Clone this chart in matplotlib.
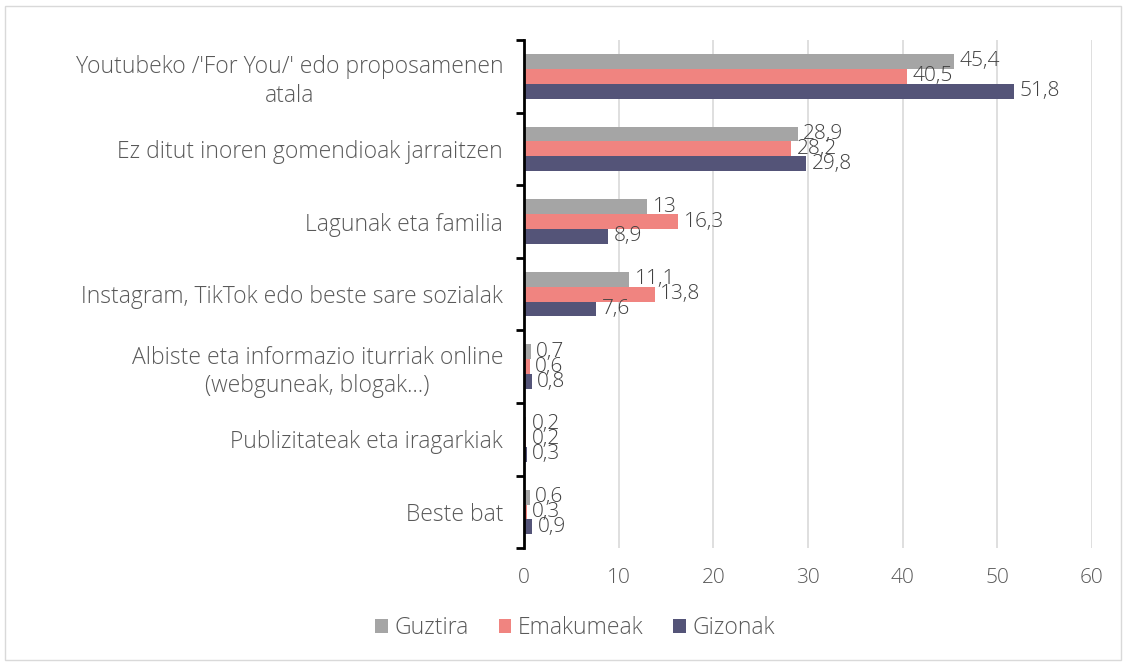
import matplotlib.pyplot as plt
from matplotlib.patches import Rectangle
import numpy as np

plt.rcParams['font.family'] = ['Open Sans', 'DejaVu Sans']
plt.rcParams['font.weight'] = 'light'

categories = [
    "Youtubeko /'For You/' edo proposamenen\natala",
    "Ez ditut inoren gomendioak jarraitzen",
    "Lagunak eta familia",
    "Instagram, TikTok edo beste sare sozialak",
    "Albiste eta informazio iturriak online\n(webguneak, blogak...)",
    "Publizitateak eta iragarkiak",
    "Beste bat",
]
guztira = [45.4, 28.9, 13, 11.1, 0.7, 0.2, 0.6]
emakumeak = [40.5, 28.2, 16.3, 13.8, 0.6, 0.2, 0.3]
gizonak = [51.8, 29.8, 8.9, 7.6, 0.8, 0.3, 0.9]

series = [("Guztira", guztira, "#A5A5A5"),
          ("Emakumeak", emakumeak, "#F08480"),
          ("Gizonak", gizonak, "#545478")]

text_col = "#595959"

fig = plt.figure(figsize=(11.28, 6.67), dpi=100)
ax = fig.add_axes([0.4645, 0.178, 0.5035, 0.762])

y = np.arange(len(categories))
h = 0.205
for i, (name, vals, col) in enumerate(series):
    pos = y + (i - 1) * h
    ax.barh(pos, vals, height=h, color=col, label=name)
    for p, v in zip(pos, vals):
        txt = f"{v:g}".replace(".", ",")
        ax.annotate(txt, (v, p), xytext=(4, 0), textcoords="offset points",
                    va="center", ha="left", fontsize=15, color="#404040")

ax.set_xlim(0, 60)
ax.set_ylim(len(categories) - 0.5, -0.5)
ax.set_xticks(range(0, 61, 10))
ax.tick_params(axis="x", length=0, labelsize=15, labelcolor=text_col, pad=14)
ax.grid(axis="x", color="#D9D9D9", linewidth=1.2)
ax.set_axisbelow(True)

ax.set_yticks(y)
ax.set_yticklabels(categories, fontsize=16.5, color=text_col, linespacing=1.25)
for lbl in ax.get_yticklabels():
    lbl.set_multialignment("center")
ax.tick_params(axis="y", which="major", length=0, pad=15)
ax.set_yticks(np.arange(-0.5, len(categories)), minor=True)
ax.tick_params(axis="y", which="minor", length=6, width=2, color="black")

for s in ["top", "right", "bottom"]:
    ax.spines[s].set_visible(False)
ax.spines["left"].set_linewidth(2)
ax.spines["left"].set_color("black")

fig.legend(loc="lower center", bbox_to_anchor=(0.51, 0.01), ncol=3,
           frameon=False, fontsize=16.5, handlelength=0.55, handleheight=0.55,
           handletextpad=0.3, columnspacing=1.3, labelcolor=text_col)

fig.patches.append(Rectangle((5 / 1128, 7 / 667), 1116 / 1128, 654 / 667,
                             transform=fig.transFigure, fill=False,
                             edgecolor="#D9D9D9", linewidth=1))

fig.savefig("out.png", dpi=100)
